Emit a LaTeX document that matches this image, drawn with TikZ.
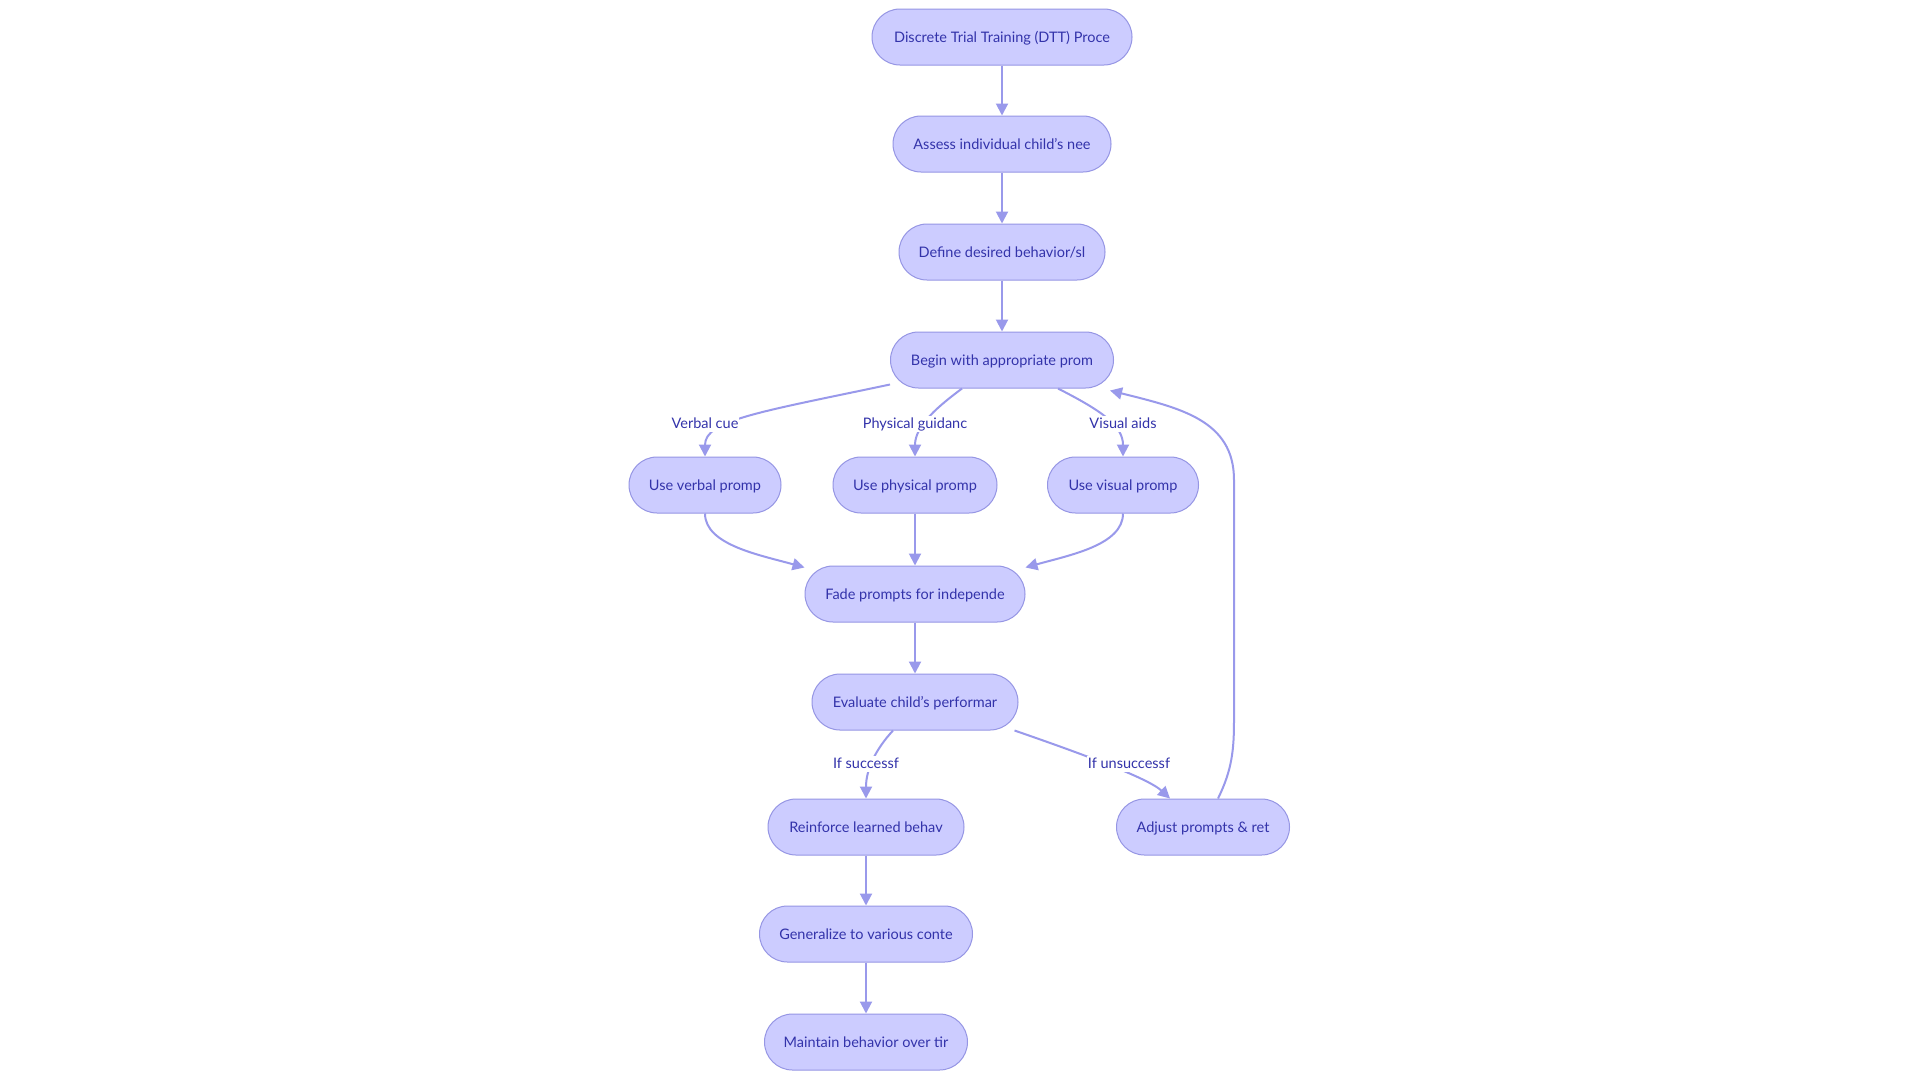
\documentclass[tikz,border=0pt]{standalone}
\usepackage{fontspec}
\setmainfont{Lato}
\usepackage{tikz}
\usetikzlibrary{arrows.meta, calc, positioning}

\definecolor{nodefill}{RGB}{204,204,255}
\definecolor{nodeline}{RGB}{150,150,228}
\definecolor{edgecol}{RGB}{153,153,235}
\definecolor{txtcol}{RGB}{51,51,170}

\begin{document}
\begin{tikzpicture}[x=1pt, y=-1pt, >={Triangle[length=12pt,width=12pt]},
    proc/.style={draw=nodeline, line width=1pt, fill=nodefill, rounded corners=28pt,
        minimum height=56pt, inner sep=0pt, text=txtcol, text height=12pt, text depth=1pt,
        font=\fontsize{14.5}{16}\selectfont},
    edge/.style={->, line width=2pt, draw=edgecol},
    elabel/.style={fill=white, inner sep=1pt, text=txtcol, text height=11pt, text depth=3pt,
        font=\fontsize{14.5}{16}\selectfont}]
    \useasboundingbox[fill=white] (0,0) rectangle (1920,1080);

    % main column
    \node[proc, minimum width=260pt] (dtt) at (1002,37) {Discrete Trial Training (DTT) Proce};
    \node[proc, minimum width=218pt] (assess) at (1002,144) {Assess individual child's nee};
    \node[proc, minimum width=206pt] (define) at (1002,252) {Define desired behavior/sl};
    \node[proc, minimum width=223pt] (begin) at (1002,360) {Begin with appropriate prom};

    % prompt types
    \node[proc, minimum width=152pt] (verbal) at (705,485) {Use verbal promp};
    \node[proc, minimum width=164pt] (physical) at (915,485) {Use physical promp};
    \node[proc, minimum width=151pt] (visual) at (1123,485) {Use visual promp};

    \node[proc, minimum width=220pt] (fade) at (915,594) {Fade prompts for independe};
    \node[proc, minimum width=206pt] (evaluate) at (915,702) {Evaluate child's performar};

    % outcomes
    \node[proc, minimum width=196pt] (reinforce) at (866,827) {Reinforce learned behav};
    \node[proc, minimum width=173pt] (adjust) at (1203,827) {Adjust prompts \& ret};
    \node[proc, minimum width=213pt] (general) at (866,934) {Generalize to various conte};
    \node[proc, minimum width=203pt] (maintain) at (866,1042) {Maintain behavior over tir};

    % connectors
    \draw[edge] (dtt) -- (assess);
    \draw[edge] (assess) -- (define);
    \draw[edge] (define) -- (begin);
    \draw[edge] ([yshift=4pt]begin.south west) .. controls (760,412) and (705,420) .. (verbal.north);
    \draw[edge] ([xshift=-40pt]begin.south) .. controls (940,405) and (915,425) .. (physical.north);
    \draw[edge] ([xshift=56pt]begin.south) .. controls (1100,410) and (1123,425) .. (visual.north);
    \draw[edge] (verbal.south) .. controls (705,545) and (760,555) .. ([yshift=-2pt]fade.north west);
    \draw[edge] (physical) -- (fade);
    \draw[edge] (visual.south) .. controls (1123,545) and (1070,555) .. ([yshift=-2pt]fade.north east);
    \draw[edge] (fade) -- (evaluate);
    \draw[edge] ([xshift=-22pt]evaluate.south) .. controls (875,750) and (866,770) .. (reinforce.north);
    \draw[edge] ([xshift=-4pt]evaluate.south east) .. controls (1100,760) and (1150,780) .. ([xshift=-33pt]adjust.north);
    \draw[edge] ([xshift=15pt]adjust.north) .. controls (1232,770) and (1234,750) .. (1234,720)
        -- (1234,480) .. controls (1234,420) and (1180,408) .. ([xshift=-4pt,yshift=-2pt]begin.south east);
    \draw[edge] (reinforce) -- (general);
    \draw[edge] (general) -- (maintain);

    % edge labels
    \node[elabel] (lverbal) at (705,424) {Verbal cue};
    \node[elabel] (lphys) at (915,424) {Physical guidanc};
    \node[elabel] (lvisual) at (1123,424) {Visual aids};
    \node[elabel] (lsucc) at (866,764) {If successf};
    \node[elabel] (lunsucc) at (1129,764) {If unsuccessf};
\end{tikzpicture}
\end{document}
